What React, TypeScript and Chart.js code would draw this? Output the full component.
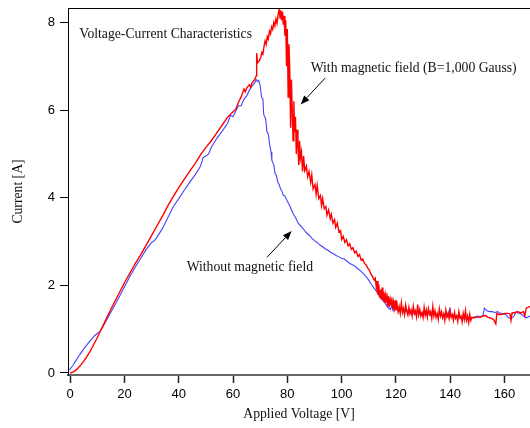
import React, { useEffect, useRef } from "react";
import { Chart, registerables } from "chart.js";

Chart.register(...registerables);

// ---- data ----
const xTickValues = [0, 20, 40, 60, 80, 100, 120, 140, 160];
const yTickValues = [0, 2, 4, 6, 8];

// With magnetic field (red), split into stretches of the trace
const redRiseVoltage = [
  0, 1, 2, 3, 4, 5, 6, 7, 8, 9, 10, 11, 12, 14, 16, 18, 20, 22, 24, 26, 28, 30, 32, 34, 36, 38, 40, 42, 44, 46, 48, 50,
  52, 54, 56, 58, 60, 61, 62, 63, 64, 64.5, 65, 66, 66.5, 67, 68, 68.5,
];
const redRiseCurrent = [
  0, 0.02, 0.06, 0.12, 0.19, 0.27, 0.36, 0.46, 0.57, 0.69, 0.81, 0.94, 1.07, 1.33, 1.58, 1.82, 2.06, 2.28, 2.5, 2.7, 2.92,
  3.14, 3.36, 3.58, 3.82, 4.03, 4.23, 4.42, 4.6, 4.78, 4.98, 5.15,
  5.3, 5.48, 5.66, 5.84, 5.96, 6.02, 6.18, 6.3, 6.48, 6.42, 6.5, 6.58, 6.52, 6.62, 6.7, 6.78,
];
const redPeakVoltage = [
  68.7, 69.0, 69.6, 70.2, 70.6, 71.0, 71.4, 71.8, 72.2, 72.6, 73.0, 73.4, 73.8, 74.2, 74.6, 75.0, 75.4, 75.8, 76.2, 76.6,
];
const redPeakCurrent = [
  7.3, 7.08, 7.12, 7.2, 7.32, 7.28, 7.45, 7.58, 7.5, 7.68, 7.62, 7.8, 7.74, 7.9, 7.84, 8.0, 7.92, 8.08, 7.98, 8.18,
];
const redDropVoltage = [
  77.0, 77.3, 77.6, 77.9, 78.2, 78.5, 78.8, 79.1, 79.4, 79.7,
  80.0, 80.3, 80.6, 80.9, 81.2, 81.5, 81.8, 82.1, 82.4, 82.7,
  83.0, 83.3, 83.6, 83.9, 84.2, 84.5, 84.8, 85.2, 85.6, 86.0,
  86.4, 87.0, 87.5, 88.0, 88.6, 89.0, 89.5, 90.2, 90.6, 91.0,
  91.6, 92.2, 92.6, 93.0, 93.6, 94.2, 94.6, 95.2, 95.8, 96.2,
  96.8, 97.4, 97.8, 98.4, 99.0, 99.6, 100.0, 100.6, 101.2, 101.8,
  102.4, 103.0, 103.6, 104.2, 104.8, 105.4, 106.0, 106.6, 107.2, 107.8,
  108.4, 109.0, 109.6, 110.2, 110.8, 111.4, 112.0, 112.4,
  112.8, 113.1, 113.4, 113.7, 114.0, 114.3, 114.6, 114.9, 115.2, 115.5,
  115.8, 116.1, 116.4, 116.7, 117.0, 117.3, 117.6, 117.9, 118.2, 118.5,
  118.8, 119.1, 119.4, 119.7, 120.0, 120.4, 120.8, 121.2, 121.6, 122.0,
];
const redDropCurrent = [
  8.3, 8.1, 8.28, 8.05, 8.25, 7.95, 8.15, 7.7, 8.05, 7.0,
  7.85, 6.3, 7.5, 6.9, 5.6, 6.7, 6.0, 5.3, 6.2, 5.5,
  5.85, 5.0, 5.55, 5.2, 4.75, 5.3, 4.9, 5.05, 4.6, 4.95,
  4.62, 4.72, 4.48, 4.6, 4.35, 4.52, 4.2, 4.3, 4.08, 4.28,
  3.98, 4.05, 3.82, 3.98, 3.75, 3.8, 3.6, 3.72, 3.52, 3.62,
  3.42, 3.5, 3.32, 3.42, 3.22, 3.25, 3.05, 3.12, 2.98, 3.04,
  2.9, 2.95, 2.82, 2.86, 2.74, 2.78, 2.66, 2.7, 2.58, 2.6,
  2.5, 2.47, 2.4, 2.35, 2.26, 2.2, 2.12, 2.16,
  1.95, 2.1, 1.78, 2.02, 1.72, 1.9, 1.68, 1.95, 1.65, 1.85,
  1.6, 1.78, 1.62, 1.82, 1.52, 1.75, 1.5, 1.68, 1.56, 1.72,
  1.45, 1.62, 1.48, 1.66, 1.42, 1.58, 1.4, 1.52, 1.36, 1.6,
];
const redTailVoltage = [
  122.4, 122.8, 123.2, 123.6, 124.0, 124.4, 124.8, 125.2, 125.6, 126.0,
  126.4, 126.8, 127.2, 127.6, 128.0, 128.4, 128.8, 129.2, 129.6, 130.0,
  130.4, 130.8, 131.2, 131.6, 132.0, 132.4, 132.8, 133.2, 133.6, 134.0,
  134.4, 134.8, 135.2, 135.6, 136.0, 136.4, 136.8, 137.2, 137.6, 138.0,
  138.4, 138.8, 139.2, 139.6, 140.0, 140.4, 140.8, 141.2, 141.6, 142.0,
  142.4, 142.8, 143.2, 143.6, 144.0, 144.4, 144.8, 145.2, 145.6, 146.0,
  146.4, 146.8, 147.2, 147.6, 148.0,
  149, 150, 151, 152, 153, 154, 155, 156, 156.8, 157.2, 158, 159, 160, 161, 162, 162.4, 162.8, 164, 165, 166, 167,
  167.5, 168, 169.5,
];
const redTailCurrent = [
  1.38, 1.48, 1.33, 1.55, 1.4, 1.32, 1.5, 1.35, 1.44, 1.3,
  1.52, 1.36, 1.42, 1.28, 1.56, 1.33, 1.45, 1.3, 1.38, 1.26,
  1.5, 1.32, 1.44, 1.28, 1.47, 1.34, 1.4, 1.25, 1.52, 1.3,
  1.42, 1.27, 1.36, 1.22, 1.46, 1.3, 1.4, 1.26, 1.35, 1.2,
  1.44, 1.28, 1.36, 1.24, 1.42, 1.27, 1.33, 1.2, 1.38, 1.25,
  1.31, 1.18, 1.4, 1.26, 1.3, 1.17, 1.36, 1.22, 1.42, 1.2,
  1.3, 1.15, 1.34, 1.2, 1.27,
  1.26, 1.28, 1.27, 1.3, 1.31, 1.27, 1.25, 1.22, 1.12, 1.36, 1.33, 1.34, 1.36, 1.36, 1.35, 1.2, 1.37, 1.38, 1.4, 1.37, 1.4,
  1.3, 1.48, 1.52,
];

// Without magnetic field (blue)
const blueVoltage = [
  -0.3, 1, 2, 3, 4, 5, 6, 7, 8, 9, 10, 11, 12, 14, 16, 18, 20, 22, 24, 26, 28, 30, 31, 32, 34, 36, 38, 40, 42, 44, 46, 48,
  49, 50, 51, 52, 54, 56, 58, 59, 60, 61, 62, 63, 64, 65, 66, 67, 68, 68.5, 69, 69.5, 70, 70.5, 71, 71.3, 72, 72.5, 73,
  73.5, 74, 74.3, 75, 75.5, 76, 76.5, 77, 77.5, 78, 78.5, 79, 80, 81, 82, 83, 84, 85, 86, 87, 88, 89, 90, 91, 92, 93, 94,
  95, 96, 97, 98, 99, 100, 101, 102, 103, 104, 105, 106, 107, 108, 109, 110, 111, 112, 113, 114, 115, 116, 117, 118, 118.5,
  119, 120, 121, 122, 123, 124, 125, 126, 127, 128, 129, 130, 131, 132, 133, 134, 135, 136, 137, 138, 139, 139.8, 140.3,
  141, 142, 143, 144, 145, 146, 147, 148, 149, 150, 151, 152, 152.6, 153.5, 154.5, 155.5, 156.5, 157.5, 158.5, 159.5,
  160.5, 161.5, 162.5, 163.5, 164.3, 165, 166, 167, 168, 169.5,
];
const blueCurrent = [
  0.07, 0.17, 0.27, 0.37, 0.46, 0.55, 0.63, 0.71, 0.78, 0.85, 0.9, 0.95, 1.05, 1.27, 1.5, 1.73, 1.97, 2.2, 2.42, 2.62, 2.82,
  2.98, 3.02, 3.1, 3.3, 3.55, 3.8, 3.98, 4.17, 4.35, 4.52, 4.72,
  4.92, 4.95, 5.0, 5.15, 5.35, 5.52, 5.7, 5.88, 5.85, 5.98, 6.1, 6.1, 6.25, 6.32, 6.45, 6.55, 6.62, 6.7, 6.65, 6.68, 6.55,
  6.3, 6.25, 5.9, 5.8, 5.5, 5.45,
  5.2, 5.05, 4.85, 4.75, 4.55, 4.5, 4.35, 4.3, 4.2, 4.15, 4.05, 4.05, 3.92, 3.8, 3.65, 3.55, 3.42, 3.35, 3.28, 3.2, 3.15,
  3.08, 3.02, 2.98, 2.92, 2.88, 2.83,
  2.8, 2.75, 2.72, 2.68, 2.65, 2.62, 2.6, 2.55, 2.5, 2.47, 2.43, 2.38, 2.33, 2.27, 2.2, 2.12, 2.02, 1.93, 1.85, 1.75, 1.67,
  1.6, 1.5, 1.45, 1.55,
  1.42, 1.52, 1.4, 1.48, 1.38, 1.45, 1.35, 1.42, 1.33, 1.4, 1.33, 1.38, 1.32, 1.37, 1.3, 1.36, 1.3, 1.35, 1.3, 1.34, 1.28,
  1.46, 1.3,
  1.33, 1.27, 1.3, 1.24, 1.27, 1.22, 1.26, 1.25, 1.28, 1.3, 1.29, 1.3, 1.48, 1.42, 1.4, 1.4, 1.38, 1.4, 1.36, 1.35,
  1.33, 1.26, 1.24, 1.3, 1.4, 1.37, 1.35, 1.3, 1.26, 1.3,
];

const chartTitle = "Voltage-Current Characteristics";
const withFieldLabel = "With magnetic field (B=1,000 Gauss)";
const withoutFieldLabel = "Without magnetic field";
const xAxisTitle = "Applied Voltage [V]";
const yAxisTitle = "Current [A]";

// annotation anchors in data units
const titleAnchor = [3.35, 7.73];
const withLabelAnchor = [88.6, 6.96];
const withoutLabelAnchor = [42.9, 2.4];
const withArrow = [93.9, 6.73, 84.9, 6.13];
const withoutArrow = [72.5, 2.64, 81.6, 3.24];

const SERIF = '"Liberation Serif", "Times New Roman", Times, serif';
const SANS = '"Liberation Sans", Arial, Helvetica, sans-serif';

function toPoints(xs: number[], ys: number[]) {
  const n = Math.min(xs.length, ys.length);
  const out: { x: number; y: number }[] = [];
  for (let i = 0; i < n; i++) out.push({ x: xs[i], y: ys[i] });
  return out;
}

const redPoints = () => [
  ...toPoints(redRiseVoltage, redRiseCurrent),
  ...toPoints(redPeakVoltage, redPeakCurrent),
  ...toPoints(redDropVoltage, redDropCurrent),
  ...toPoints(redTailVoltage, redTailCurrent),
];

const annotationPlugin = {
  id: "annotations",
  afterDraw(chart: any) {
    const { ctx, chartArea, scales } = chart;
    const px = (v: number) => scales.x.getPixelForValue(v);
    const py = (v: number) => scales.y.getPixelForValue(v);
    ctx.save();
    // top frame line
    ctx.strokeStyle = "#000";
    ctx.lineWidth = 1;
    ctx.beginPath();
    ctx.moveTo(chartArea.left, Math.round(chartArea.top) + 0.5);
    ctx.lineTo(chartArea.right, Math.round(chartArea.top) + 0.5);
    ctx.stroke();

    ctx.fillStyle = "#111";
    ctx.font = `13.7px ${SERIF}`;
    ctx.textAlign = "left";
    ctx.textBaseline = "middle";
    ctx.fillText(chartTitle, px(titleAnchor[0]), py(titleAnchor[1]));
    ctx.fillText(withFieldLabel, px(withLabelAnchor[0]), py(withLabelAnchor[1]));
    ctx.fillText(withoutFieldLabel, px(withoutLabelAnchor[0]), py(withoutLabelAnchor[1]));

    const arrow = (a: number[]) => {
      const x1 = px(a[0]), y1 = py(a[1]), x2 = px(a[2]), y2 = py(a[3]);
      const ang = Math.atan2(y2 - y1, x2 - x1);
      const len = 9, half = 3.5;
      const bx = x2 - len * Math.cos(ang), by = y2 - len * Math.sin(ang);
      ctx.strokeStyle = "#000";
      ctx.lineWidth = 1;
      ctx.beginPath();
      ctx.moveTo(x1, y1);
      ctx.lineTo(bx, by);
      ctx.stroke();
      ctx.fillStyle = "#000";
      ctx.beginPath();
      ctx.moveTo(x2, y2);
      ctx.lineTo(bx + half * Math.sin(ang), by - half * Math.cos(ang));
      ctx.lineTo(bx - half * Math.sin(ang), by + half * Math.cos(ang));
      ctx.closePath();
      ctx.fill();
    };
    arrow(withArrow);
    arrow(withoutArrow);
    ctx.restore();
  },
};

export default function App() {
  const ref = useRef<HTMLCanvasElement | null>(null);
  useEffect(() => {
    document.body.style.margin = "0";
    const canvas = ref.current;
    if (!canvas) return;
    const chart = new Chart(canvas, {
      type: "line",
      data: {
        datasets: [
          {
            label: "With magnetic field",
            data: redPoints(),
            borderColor: "#ff0000",
            borderWidth: 1.4,
            pointRadius: 0,
            tension: 0,
            fill: false,
          },
          {
            label: "Without magnetic field",
            data: toPoints(blueVoltage, blueCurrent),
            borderColor: "#4343ff",
            borderWidth: 1.1,
            pointRadius: 0,
            tension: 0,
            fill: false,
          },
        ],
      },
      options: {
        animation: false,
        responsive: false,
        devicePixelRatio: 1,
        layout: { padding: { top: 8, right: 0, left: 0, bottom: 0 } },
        plugins: { legend: { display: false }, tooltip: { enabled: false }, title: { display: false } },
        scales: {
          x: {
            type: "linear",
            min: -0.81,
            max: 169.4,
            afterFit: (s: any) => {
              s.height = 53;
              s.paddingLeft = 0;
              s.paddingRight = 0;
            },
            afterBuildTicks: (s: any) => {
              s.ticks = xTickValues.map((v) => ({ value: v }));
            },
            ticks: {
              color: "#000",
              font: { family: SANS, size: 13 },
              padding: 4,
              maxRotation: 0,
              autoSkip: false,
              includeBounds: false,
            },
            grid: {
              drawOnChartArea: false,
              drawTicks: true,
              tickLength: 8,
              tickColor: "#222",
              tickWidth: 1.5,
            },
            border: { color: "#666", width: 2 },
            title: {
              display: true,
              text: xAxisTitle,
              color: "#111",
              font: { family: SERIF, size: 13.7 },
              padding: { top: 0, bottom: 5 },
            },
          },
          y: {
            type: "linear",
            min: -0.046,
            max: 8.33,
            afterFit: (s: any) => {
              s.width = 68;
              s.paddingTop = 0;
              s.paddingBottom = 0;
            },
            afterBuildTicks: (s: any) => {
              s.ticks = yTickValues.map((v) => ({ value: v }));
            },
            ticks: {
              color: "#000",
              font: { family: SANS, size: 13 },
              padding: 5,
              autoSkip: false,
              includeBounds: false,
            },
            grid: {
              drawOnChartArea: false,
              drawTicks: true,
              tickLength: 8,
              tickColor: "#000",
              tickWidth: 1,
            },
            border: { color: "#000", width: 1 },
            title: {
              display: true,
              text: yAxisTitle,
              color: "#111",
              font: { family: SERIF, size: 13.7 },
              padding: { top: 10, bottom: 0 },
            },
          },
        },
      },
      plugins: [annotationPlugin],
    } as any);
    return () => chart.destroy();
  }, []);
  return (
    <div style={{ width: 530, height: 428 }}>
      <canvas ref={ref} width={530} height={428} style={{ display: "block" }} />
    </div>
  );
}
